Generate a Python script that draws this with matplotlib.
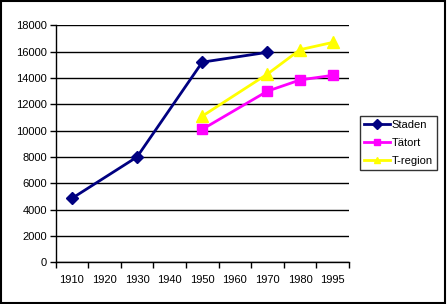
import matplotlib
matplotlib.use("Agg")
import matplotlib.pyplot as plt
from matplotlib.patches import Rectangle

categories = ["1910", "1920", "1930", "1940", "1950", "1960", "1970", "1980", "1995"]
staden_years = ["1910", "1930", "1950", "1970"]
staden_vals = [4850, 8000, 15200, 15950]
tatort_years = ["1950", "1970", "1980", "1995"]
tatort_vals = [10100, 13000, 13850, 14200]
tregion_years = ["1950", "1970", "1980", "1995"]
tregion_vals = [11100, 14300, 16150, 16700]

plt.rcParams['font.family'] = ['Liberation Sans', 'DejaVu Sans']
W, H = 447, 304
fig = plt.figure(figsize=(W / 100, H / 100), dpi=100)
fig.patch.set_facecolor("white")

L, R, T, B = 55.5, 349, 25.3, 262.3
ax = fig.add_axes([L / W, 1 - B / H, (R - L) / W, (B - T) / H])

idx = {c: i for i, c in enumerate(categories)}

ax.plot([idx[y] for y in staden_years], staden_vals, color="#000080", lw=2,
        marker="D", ms=6, mfc="#000080", mec="#000080", label="Staden", zorder=5)
ax.plot([idx[y] for y in tatort_years], tatort_vals, color="#FF00FF", lw=2,
        marker="s", ms=7, mfc="#FF00FF", mec="#FF00FF", label="Tätort", zorder=4)
ax.plot([idx[y] for y in tregion_years], tregion_vals, color="#FFFF00", lw=2,
        marker="^", ms=8, mfc="#FFFF00", mec="#FFFF00", label="T-region", zorder=3)

fs = 8
ax.set_xlim(-0.5, len(categories) - 0.5)
ax.set_ylim(0, 18000)
ax.set_yticks(range(0, 18001, 2000))
ax.set_yticklabels([str(v) for v in range(0, 18001, 2000)], fontsize=fs)
ax.set_xticks([i for i in range(len(categories))])
ax.set_xticklabels(categories, fontsize=fs)
ax.set_xticks([i - 0.5 for i in range(len(categories) + 1)], minor=True)
ax.tick_params(axis="x", which="major", length=0, pad=9)
ax.tick_params(axis="x", which="minor", length=4, width=1, color="black")
ax.tick_params(axis="y", length=4, width=1, pad=2)
ax.yaxis.grid(True, color="black", lw=1)
ax.set_axisbelow(True)
for s in ["top", "right"]:
    ax.spines[s].set_visible(False)
for s in ["left", "bottom"]:
    ax.spines[s].set_linewidth(1)
ax.set_facecolor("white")

leg = fig.legend(loc="upper left", bbox_to_anchor=(360 / W, 1 - 115.7 / H),
                 fontsize=fs, frameon=True, fancybox=False, handlelength=2.3,
                 handletextpad=0.15, borderpad=0.4, labelspacing=0.7,
                 borderaxespad=0)
leg.get_frame().set_edgecolor("black")
leg.get_frame().set_linewidth(1)
for h in leg.legend_handles:
    h.set_markersize(5)

# figure border
fig.patches.append(Rectangle((0.5 / W, 1.5 / H), (W - 2.5) / W, (H - 2.5) / H,
                             transform=fig.transFigure, fill=False,
                             edgecolor="black", lw=1.5))

fig.savefig("out.png", dpi=100)
